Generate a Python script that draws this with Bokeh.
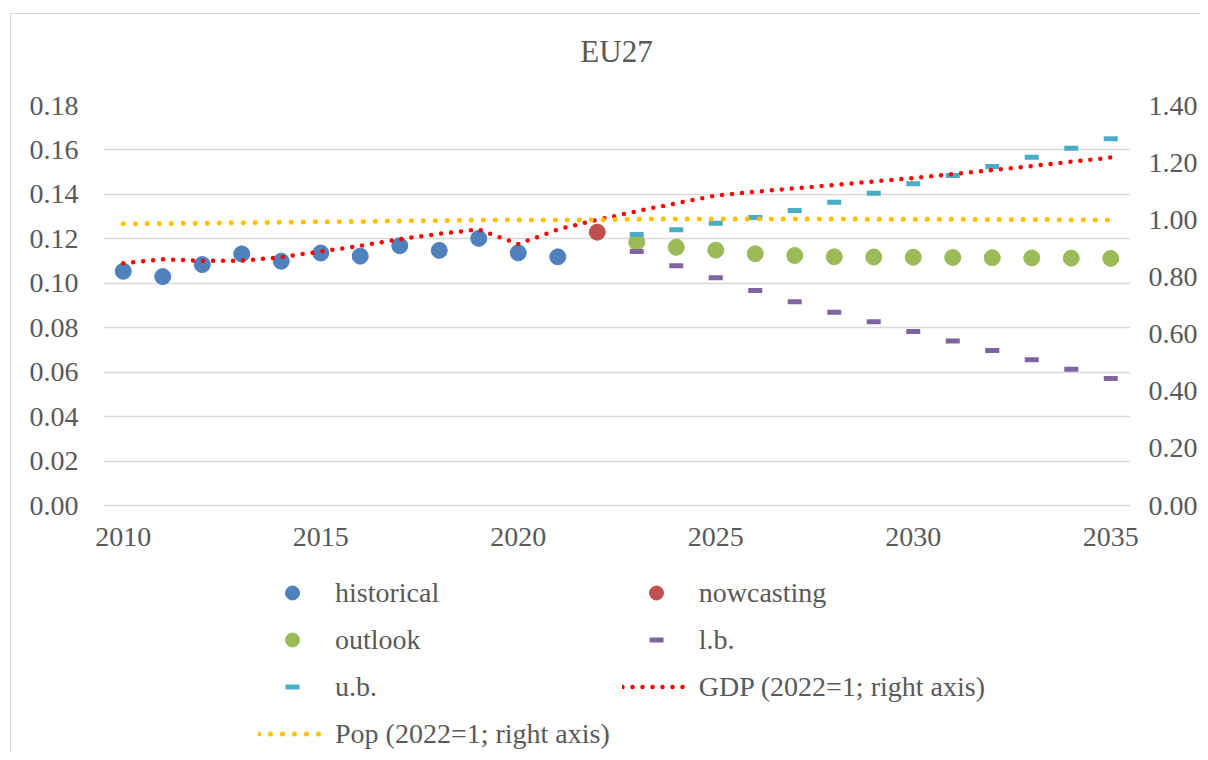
from bokeh.plotting import figure
from bokeh.layouts import column
from bokeh.models import (Range1d, LinearAxis, FixedTicker, NumeralTickFormatter,
                          Legend, LegendItem, Div)
from bokeh.embed import file_html
from bokeh.resources import INLINE

# ---------------- data ----------------
title_text = "EU27"

hist_years = [2010, 2011, 2012, 2013, 2014, 2015, 2016, 2017, 2018, 2019, 2020, 2021]
hist_values = [0.1054, 0.1030, 0.1084, 0.1132, 0.1099, 0.1136, 0.1122, 0.1169,
               0.1148, 0.1202, 0.1137, 0.1119]

nowcast_years = [2022]
nowcast_values = [0.1230]

outlook_years = [2023, 2024, 2025, 2026, 2027, 2028, 2029, 2030, 2031, 2032, 2033, 2034, 2035]
outlook_values = [0.1185, 0.1162, 0.1149, 0.1133, 0.1125, 0.1119, 0.1118, 0.1117,
                  0.1116, 0.1115, 0.1114, 0.1113, 0.1112]
lb_values = [0.1143, 0.1079, 0.1025, 0.0967, 0.0917, 0.0870, 0.0827, 0.0783,
             0.0740, 0.0698, 0.0656, 0.0613, 0.0572]
ub_values = [0.1219, 0.1241, 0.1270, 0.1296, 0.1328, 0.1365, 0.1405, 0.1448,
             0.1485, 0.1525, 0.1567, 0.1608, 0.1650]

all_years = list(range(2010, 2036))
gdp_values = [0.848, 0.862, 0.856, 0.857, 0.869, 0.889, 0.909, 0.932, 0.951, 0.966,
              0.915, 0.966, 1.000, 1.030, 1.058, 1.085, 1.098, 1.110, 1.122, 1.134,
              1.146, 1.160, 1.174, 1.188, 1.203, 1.218]
pop_values = [0.986, 0.987, 0.988, 0.990, 0.991, 0.993, 0.994, 0.996, 0.997, 0.999,
              1.000, 0.999, 1.000, 1.002, 1.003, 1.003, 1.003, 1.003, 1.003, 1.002,
              1.002, 1.002, 1.001, 1.001, 1.000, 0.999]

x_ticks = [2010, 2015, 2020, 2025, 2030, 2035]
left_ticks = [0.00, 0.02, 0.04, 0.06, 0.08, 0.10, 0.12, 0.14, 0.16, 0.18]
right_ticks = [0.0, 0.2, 0.4, 0.6, 0.8, 1.0, 1.2, 1.4]

labels = ["historical", "nowcasting", "outlook", "l.b.", "u.b.",
          "GDP (2022=1; right axis)", "Pop (2022=1; right axis)"]

# ---------------- style ----------------
FONT = "Liberation Serif"
TXT = "#595959"
GRID = "#D9D9D9"
C_HIST, C_NOW, C_OUT, C_LB, C_UB = "#4F81BD", "#C0504D", "#9BBB59", "#8064A2", "#4BACC6"
C_GDP, C_POP = "#FF0000", "#FFC000"


def draw_series(fig, right_name=None):
    kw = {} if right_name is None else {"y_range_name": right_name}
    rs = [
        fig.scatter(hist_years, hist_values, size=16, color=C_HIST),
        fig.scatter(nowcast_years, nowcast_values, size=16, color=C_NOW),
        fig.scatter(outlook_years, outlook_values, size=16, color=C_OUT),
        fig.scatter(outlook_years, lb_values, marker="dash", size=14,
                    line_color=C_LB, line_width=5),
        fig.scatter(outlook_years, ub_values, marker="dash", size=14,
                    line_color=C_UB, line_width=5),
        fig.line(all_years, gdp_values, line_color=C_GDP, line_width=4.5,
                 line_dash="0 10", line_cap="round", **kw),
        fig.line(all_years, pop_values, line_color=C_POP, line_width=5,
                 line_dash="0 12", line_cap="round", **kw),
    ]
    return rs


# ---------------- title strip ----------------
title_div = Div(
    text=('<div style="display: block; width: 1189px; box-sizing: border-box; '
          'font-family: \'Liberation Serif\'; font-size: 31px; '
          'color: #595959; text-align: center; line-height: 36px; '
          'padding-top: 20px; padding-left: 22px; margin: 0;">' + title_text + '</div>'),
    width=1189, height=76, margin=0)

# ---------------- main chart ----------------
p = figure(frame_width=1027, frame_height=400, output_backend="svg", toolbar_location=None,
           x_range=Range1d(2009.5, 2035.5), y_range=Range1d(0, 0.18),
           min_border_left=92, min_border_right=70, min_border_top=15,
           min_border_bottom=50)
p.outline_line_color = None
p.background_fill_color = "white"
p.border_fill_color = "white"

p.extra_y_ranges = {"right": Range1d(0, 1.4)}

# axes
p.xaxis.ticker = FixedTicker(ticks=x_ticks)
p.yaxis.ticker = FixedTicker(ticks=left_ticks)
p.yaxis.formatter = NumeralTickFormatter(format="0.00")
raxis = LinearAxis(y_range_name="right", ticker=FixedTicker(ticks=right_ticks),
                   formatter=NumeralTickFormatter(format="0.00"))
p.add_layout(raxis, "right")

for ax in [p.xaxis[0], p.yaxis[0], raxis]:
    ax.major_label_text_font = FONT
    ax.major_label_text_font_size = "28px"
    ax.major_label_text_color = TXT
    ax.major_tick_line_color = None
    ax.minor_tick_line_color = None
    ax.major_tick_out = 0
    ax.major_tick_in = 0
    ax.axis_line_color = None
p.yaxis[0].major_label_standoff = 25
raxis.major_label_standoff = 18
p.xaxis[0].major_label_standoff = 22
p.xaxis[0].axis_line_color = GRID
p.xaxis[0].axis_line_width = 1.5

p.xgrid.grid_line_color = None
p.ygrid.grid_line_color = GRID
p.ygrid.grid_line_width = 1.5

draw_series(p, "right")

# ---------------- legend (separate strip below the chart) ----------------
# the same series are drawn here outside the visible range; only their legend glyphs show
lg = figure(width=1189, height=197, output_backend="svg", toolbar_location=None,
            x_range=Range1d(0, 1), y_range=Range1d(0, 1),
            x_axis_location=None, y_axis_location=None,
            min_border_left=0, min_border_right=0, min_border_top=0, min_border_bottom=0)
lg.outline_line_color = None
lg.grid.visible = False
lg.background_fill_color = "white"
lg.border_fill_color = "white"

rends = draw_series(lg)
legend = Legend(items=[LegendItem(label=l, renderers=[r]) for l, r in zip(labels, rends)],
                orientation="horizontal", ncols=2, location=(155, 1))
legend.label_text_font = FONT
legend.label_text_font_size = "28px"
legend.label_text_color = TXT
legend.glyph_width = 68
legend.glyph_height = 35
legend.label_height = 35
legend.label_standoff = 9
legend.spacing = 12
legend.padding = 0
legend.margin = 0
legend.border_line_color = None
legend.background_fill_alpha = 0
lg.add_layout(legend, "center")

layout = column(title_div, p, lg, spacing=0, margin=(13, 0, 0, 10),
                styles={"border-left": "1px solid #D9D9D9", "border-top": "1px solid #D9D9D9",
                        "background": "white"})

open("out.html", "w").write(file_html(layout, INLINE))
